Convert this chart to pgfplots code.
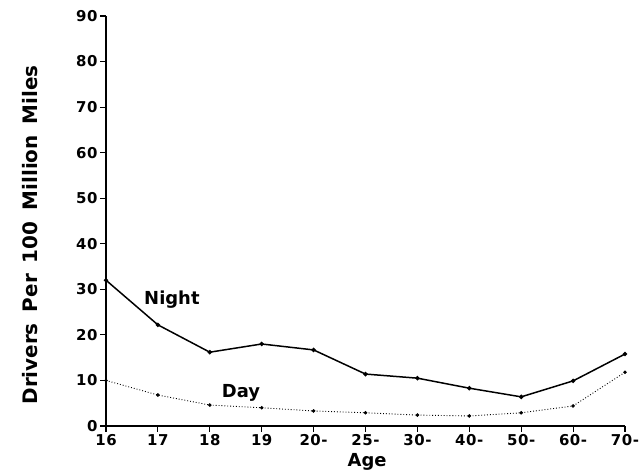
\documentclass[border=0pt]{standalone}
\usepackage{pgfplots}
\pgfplotsset{compat=1.18}
\usepackage{fontspec}
\setmainfont{DejaVu Sans}
\newfontfamily\tickfont{DejaVu Sans}[LetterSpace=4]
\newfontfamily\labfont{DejaVu Sans}[WordSpace=1.6]
\begin{document}
\begin{tikzpicture}[x=1bp,y=1bp]
\path[use as bounding box] (-106,-48) rectangle (534,426);
\begin{axis}[
  at={(0,0)}, anchor=south west,
  scale only axis, width=519bp, height=410bp,
  axis lines=left, axis line style={-, line width=1.5pt},
  xmin=0, xmax=10, ymin=0, ymax=90,
  xtick={0,...,10},
  xticklabels={16,17,18,19,20-,25-,30-,40-,50-,60-,70-},
  ytick={0,10,...,90},
  tick align=outside, major tick length=6bp,
  tick style={line width=1.2pt, black},
  /pgf/number format/assume math mode=true,
  tick label style={font=\tickfont\fontsize{15}{15}\bfseries},
  yticklabel style={xshift=1bp},
  xticklabel style={yshift=1bp},
  xlabel={Age}, ylabel={Drivers Per 100 Million Miles},
  xlabel style={font=\labfont\fontsize{18}{18}\bfseries, at={(axis description cs:0.503,-0.088)}, anchor=center},
  ylabel style={font=\labfont\fontsize{20}{20}\bfseries, at={(axis description cs:-0.146,0.466)}, anchor=center},
  clip=false,
]
\addplot[black, line width=1.5pt, mark=*, mark size=1.4pt] coordinates {
(0,32.0) (1,22.2) (2,16.2) (3,18.0) (4,16.7) (5,11.4) (6,10.5) (7,8.3) (8,6.4) (9,9.9) (10,15.8)};
\addplot[black, line width=0.9pt, dotted, mark=*, mark size=1.3pt, mark options={solid}] coordinates {
(0,10.0) (1,6.8) (2,4.6) (3,4.0) (4,3.3) (5,2.9) (6,2.4) (7,2.2) (8,2.9) (9,4.4) (10,11.8)};
\node[font=\fontsize{18}{18}\bfseries] at (axis cs:1.27,27.7) {Night};
\node[font=\fontsize{18}{18}\bfseries] at (axis cs:2.6,7.3) {Day};
\end{axis}
\end{tikzpicture}
\end{document}
